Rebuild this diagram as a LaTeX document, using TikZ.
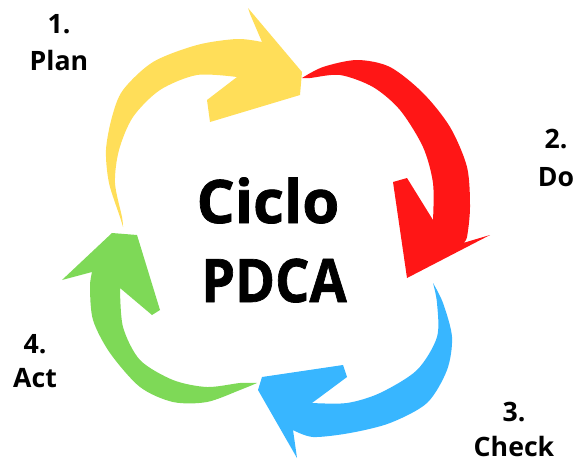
\documentclass[tikz,border=0pt]{standalone}
\usepackage{fontspec}
\setmainfont{Open Sans}
\newfontfamily\heavyfont[FakeBold=1.2]{Open Sans Bold}
\definecolor{planyellow}{HTML}{FFDE59}
\definecolor{dored}{HTML}{FF1616}
\definecolor{checkblue}{HTML}{38B6FF}
\definecolor{actgreen}{HTML}{7ED957}
\tikzset{
  label/.style={font=\fontsize{20}{24}\selectfont\bfseries, anchor=base, inner sep=0pt},
  title/.style={font=\fontsize{45}{50}\selectfont\heavyfont, anchor=base, inner sep=0pt},
}
\begin{document}
\begin{tikzpicture}[x=0.75pt, y=-0.75pt]
  \useasboundingbox (0,0) rectangle (577,461);

  % Plan: yellow arrow rising on the left and pointing right
  \fill[planyellow] (123,227)
    -- plot[smooth] coordinates {(123,227) (120,217) (109,183) (106,150) (112,117) (123,90) (153,62) (197,45) (237,39) (262,42)}
    -- (250,14) -- (248,8) -- (302,72) -- (300,95) -- (210,122) -- (207,100)
    -- plot[smooth] coordinates {(237,77) (197,75) (160,90) (133,117) (119,150) (115,183) (122,217) (123,227)}
    -- cycle;

  % Do: red arrow sweeping down the right side
  \fill[dored] (302,78)
    -- plot[smooth] coordinates {(302,78) (323,67) (357,60) (390,67) (423,93) (450,127) (467,167) (470,207) (467,237) (463,243)}
    -- (490,235) -- (407,278) -- (393,182) -- (407,178)
    -- plot[smooth] coordinates {(433,220) (433,183) (423,147) (400,110) (373,87) (340,75) (310,78) (302,78)}
    -- cycle;

  % Check: blue arrow curving down and back to the left
  \fill[checkblue] (433,283)
    -- plot[smooth] coordinates {(433,283) (443,303) (452,337) (447,370) (427,403) (390,423) (350,433) (313,437) (293,430)}
    -- (297,458) -- (258,390) -- (262,377) -- (343,365) -- (347,377)
    -- plot[smooth] coordinates {(312,403) (347,403) (380,393) (417,370) (437,337) (437,303) (433,283)}
    -- cycle;

  % Act: green arrow curving up the left side
  \fill[actgreen] (257,383)
    -- plot[smooth] coordinates {(257,383) (240,390) (207,402) (173,402) (140,387) (110,353) (93,320) (90,287) (92,272)}
    -- (62,280) -- (112,233) -- (137,235) -- (160,310) -- (152,315)
    -- plot[smooth] coordinates {(120,288) (123,327) (140,360) (173,380) (207,387) (240,383) (257,383)}
    -- cycle;

  % Centre title
  \node[title] (ciclo) at (268,223) {Ciclo};
  \node[title, xscale=0.9] (pdca) at (274,302) {PDCA};

  % Step labels
  \node[label] (n1) at (59,33) {1.};
  \node[label] (plan) at (59,70) {Plan};
  \node[label] (n2) at (556,148) {2.};
  \node[label] (do) at (556,186) {Do};
  \node[label] (n3) at (514,421) {3.};
  \node[label] (check) at (514,456) {Check};
  \node[label] (n4) at (35,353) {4.};
  \node[label] (act) at (35,387) {Act};
\end{tikzpicture}
\end{document}
